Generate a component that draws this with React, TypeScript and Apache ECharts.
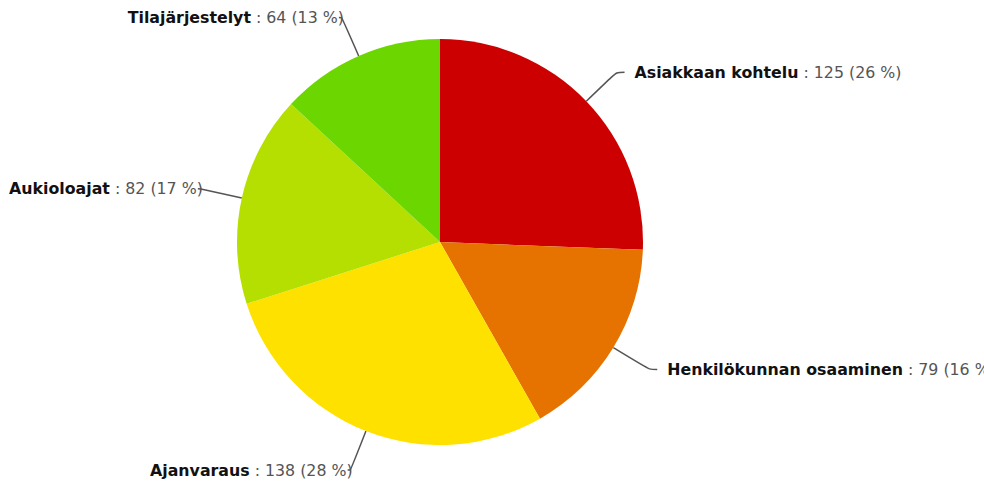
import React, { useEffect, useRef } from "react";
import * as echarts from "echarts";

const categories = [
  "Asiakkaan kohtelu",
  "Henkilökunnan osaaminen",
  "Ajanvaraus",
  "Aukioloajat",
  "Tilajärjestelyt",
];
const values = [125, 79, 138, 82, 64];
const colors = ["#CC0000", "#E67300", "#FFE100", "#B5DF00", "#6CD700"];

const CX = 440;
const CY = 242;
const R = 203;

export default function App() {
  const ref = useRef<HTMLDivElement>(null);
  useEffect(() => {
    if (!ref.current) return;
    const chart = echarts.init(ref.current, undefined, { renderer: "svg" });
    const total = values.reduce((a, b) => a + b, 0);
    chart.setOption({
      animation: false,
      backgroundColor: "#ffffff",
      series: [
        {
          type: "pie",
          center: [CX, CY],
          radius: R,
          startAngle: 90,
          clockwise: true,
          avoidLabelOverlap: false,
          data: categories.map((c, i) => ({
            name: c,
            value: values[i],
            itemStyle: { color: colors[i] },
          })),
          label: {
            show: true,
            position: "outside",
            fontFamily: "DejaVu Sans",
            fontSize: 15.8,
            formatter: (p: any) =>
              `{b|${p.name}}{v| : ${p.value} (${Math.round((p.value / total) * 100)} %)}`,
            rich: {
              b: { fontWeight: "bold", color: "#111111", fontSize: 15.8, fontFamily: "DejaVu Sans" },
              v: { color: "#555555", fontSize: 15.8, fontFamily: "DejaVu Sans" },
            },
          },
          labelLine: {
            show: true,
            length: 40,
            length2: 6,
            smooth: 0.3,
            lineStyle: { color: "#555555", width: 1.5 },
          },
          labelLayout: (params: any) => {
            const pts = params.labelLinePoints;
            if (!pts) return {};
            const p0 = pts[0];
            const dx = p0[0] - CX;
            const dy = p0[1] - CY;
            const len = Math.sqrt(dx * dx + dy * dy) || 1;
            const ux = dx / len;
            const uy = dy / len;
            const ext = 42;
            const p1 = [p0[0] + ux * ext, p0[1] + uy * ext];
            const right = ux >= 0;
            const p2 = right ? [p1[0] + 8, p1[1]] : [p1[0] - 3, p1[1]];
            return {
              x: right ? p2[0] + 10 : p2[0] + 5,
              y: p2[1],
              align: right ? "left" : "right",
              verticalAlign: "middle",
              labelLinePoints: [p0, p1, p2],
            };
          },
          itemStyle: { borderWidth: 0 },
          emphasis: { disabled: true },
        },
      ],
    });
    return () => chart.dispose();
  }, []);
  return (
    <div
      ref={ref}
      style={{ position: "absolute", left: 0, top: 0, width: 984, height: 483 }}
    />
  );
}
